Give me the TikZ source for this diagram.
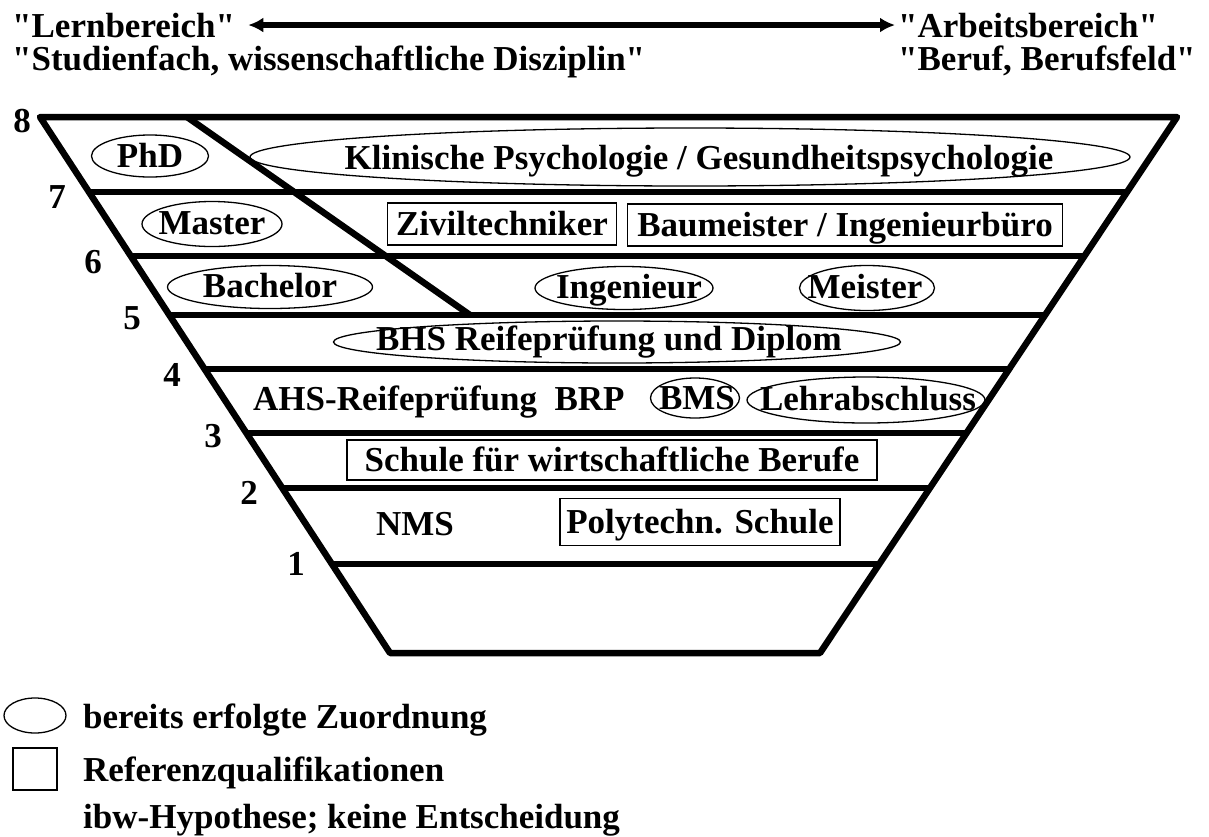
\documentclass[tikz,border=0pt]{standalone}
\usepackage{fontspec}
\setmainfont{Liberation Serif}[Ligatures=TeXOff]
\usetikzlibrary{arrows.meta,calc,shapes.geometric}
\newcommand{\sq}{{\char34}}
\begin{document}
\begin{tikzpicture}[x=1pt,y=-1pt,
  bigfont/.style={font=\fontsize{35}{40}\selectfont\bfseries},
  lbl/.style={bigfont, text height=23pt, text depth=0pt, inner sep=0pt},
  tx/.style={bigfont, inner sep=0pt, anchor=base west},
  box/.style={lbl, draw, line width=1.5pt},
  ov/.style={line width=1.3pt},
  heavy/.style={line width=6.5pt, line join=round},
  bigarrow/.style={line width=6pt, {Latex[length=15pt,width=15pt]}-{Latex[length=15pt,width=15pt]}}
]
\useasboundingbox (0,0) rectangle (1209,836);

% header
\node[tx] (lern) at (12,37) {\sq Lernbereich\sq};
\node[tx] (stud) at (12,70) {\sq Studienfach, wissenschaftliche Disziplin\sq};
\node[tx] (arb) at (898,37) {\sq Arbeitsbereich\sq};
\node[tx] (beruf) at (898,70) {\sq Beruf, Berufsfeld\sq};
\draw[bigarrow] ([xshift=13pt]lern.east) -- ([xshift=-3pt]arb.west);

% trapezoid
\coordinate (TL) at (40,117);
\coordinate (TR) at (1177,117);
\coordinate (BL) at (390,653);
\coordinate (BR) at (820,653);
\draw[heavy] (TR) -- (TL) -- (BL) -- (BR) -- cycle;
\foreach \t/\n in {0.1399/7,0.2593/6,0.3694/5,0.4701/4,0.5896/3,0.6922/2,0.8340/1}{
  \coordinate (L\n) at ($(TL)!\t!(BL)$);
  \coordinate (R\n) at ($(TR)!\t!(BR)$);
  \draw[heavy] (L\n) -- (R\n);
}
\coordinate (D1) at (187,117);
\coordinate (D2) at (470,315);
\draw[heavy] (D1) -- (D2);

% level numbers
\node[lbl] (n8) at (22,121) {8};
\node[lbl] (n7) at (57,197) {7};
\node[lbl] (n6) at (93,262) {6};
\node[lbl] (n5) at (132,318) {5};
\node[lbl] (n4) at (172,375) {4};
\node[lbl] (n3) at (213,436) {3};
\node[lbl] (n2) at (249,493) {2};
\node[lbl] (n1) at (296,564) {1};

% row 8-7
\node[lbl] (phd) at (150,156) {PhD};
\draw[ov] (phd.center) ellipse [x radius=58.5, y radius=21];
\node[lbl] (klin) at (699,158) {Klinische Psychologie / Gesundheitspsychologie};
\draw[ov] ([xshift=-9pt,yshift=1pt]klin.center) ellipse [x radius=440, y radius=29];

% row 7-6
\node[lbl] (master) at (212,223) {Master};
\draw[ov] ([yshift=-1pt]master.center) ellipse [x radius=70, y radius=22.5];
\node[box, minimum width=229pt, minimum height=42pt] (zivil) at (502,224) {Ziviltechniker};
\node[box, minimum width=435pt, minimum height=42pt] (bau) at (845,225) {Baumeister / Ingenieurbüro};

% row 6-5
\node[lbl] (bach) at (270,286) {Bachelor};
\draw[ov] ([yshift=-1pt]bach.center) ellipse [x radius=102.5, y radius=21.5];
\node[lbl] (ing) at (629,287) {Ingenieur};
\draw[ov] ([xshift=-5pt,yshift=-1pt]ing.center) ellipse [x radius=89, y radius=21.5];
\node[lbl] (meis) at (865,287) {Meister};
\draw[ov] ([xshift=2pt,yshift=-1pt]meis.center) ellipse [x radius=67.5, y radius=22.5];

% row 5-4
\node[lbl] (bhs) at (609,339) {BHS Reifeprüfung und Diplom};
\draw[ov] ([xshift=8pt,yshift=-3pt]bhs.center) ellipse [x radius=283.5, y radius=21];

% row 4-3
\node[tx] (ahs) at (253,410) {AHS-Reifeprüfung\ \ BRP};
\node[lbl] (bms) at (697,398) {BMS};
\draw[ov] ([xshift=-2pt]bms.center) ellipse [x radius=44.5, y radius=20];
\node[lbl] (lehr) at (868,399) {Lehrabschluss};
\draw[ov] ([xshift=-2pt,yshift=-1pt]lehr.center) ellipse [x radius=119, y radius=23];

% row 3-2
\node[box, minimum width=530pt, minimum height=40pt] (schule) at (612,460) {Schule für wirtschaftliche Berufe};

% row 2-1
\node[lbl] (nms) at (415,524) {NMS};
\node[box, minimum width=280pt, minimum height=47pt] (poly) at (700,522) {Polytechn. Schule};

% legend
\node[draw, ellipse, line width=1.3pt, minimum width=62pt, minimum height=35pt, inner sep=0pt] (legell) at (35,715.5) {};
\node[draw, line width=1.5pt, minimum width=44pt, minimum height=42pt, inner sep=0pt] (legbox) at (35,769) {};
\node[tx] (leg1) at (83,728) {bereits erfolgte Zuordnung};
\node[tx] (leg2) at (83,781) {Referenzqualifikationen};
\node[tx] (leg3) at (83,828) {ibw-Hypothese; keine Entscheidung};
\end{tikzpicture}
\end{document}
